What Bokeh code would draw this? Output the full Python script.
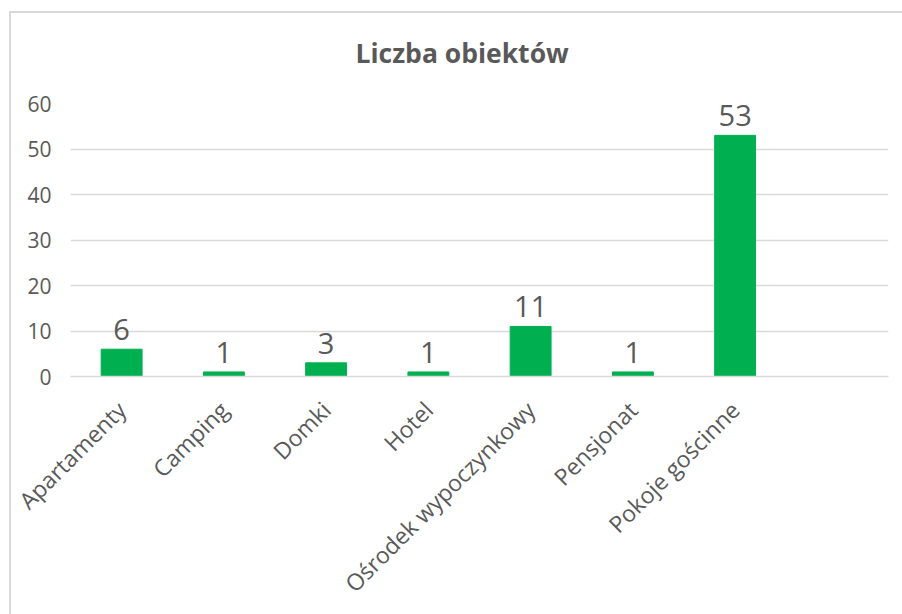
import math
from bokeh.plotting import figure
from bokeh.models import FactorRange, Range1d, ColumnDataSource, Title, FixedTicker
from bokeh.core.properties import value
from bokeh.embed import file_html
from bokeh.resources import INLINE

categories = ["Apartamenty", "Camping", "Domki", "Hotel", "Ośrodek wypoczynkowy", "Pensjonat", "Pokoje gościnne"]
counts = [6, 1, 3, 1, 11, 1, 53]
y_ticks = [0, 10, 20, 30, 40, 50, 60]
title_text = "Liczba obiektów"

GREEN = "#00B050"
TEXT = "#595959"
GRID = "#D9D9D9"
FONT = "Open Sans"

factors = categories + [" "]
src = ColumnDataSource(dict(x=categories, y=counts, lbl=[str(c) for c in counts]))

p = figure(width=902, height=614, x_range=FactorRange(*factors, range_padding=0),
           y_range=Range1d(0, 60), output_backend="svg", toolbar_location=None,
           min_border_left=70, min_border_right=14, min_border_top=103, min_border_bottom=238)
p.title = None
t = Title(text=title_text, align="left", offset=285, text_font=FONT, text_font_size="26.5px",
          text_font_style="bold", text_color=TEXT, standoff=62, vertical_align="top")
p.add_layout(t, "above")

p.vbar(x="x", top="y", width=0.4, source=src, fill_color=GREEN, line_color=GREEN)
p.text(x="x", y="y", text="lbl", source=src, text_align="center", text_baseline="bottom",
       y_offset=-9, text_font=value(FONT), text_font_size="29px", text_color=TEXT)

p.outline_line_color = None
p.background_fill_color = "white"
p.border_fill_alpha = 0
p.xgrid.grid_line_color = None
p.ygrid.grid_line_color = GRID
p.ygrid.grid_line_width = 1.5
p.yaxis.ticker = FixedTicker(ticks=y_ticks)
p.yaxis.axis_line_color = None
p.yaxis.major_tick_line_color = None
p.yaxis.minor_tick_line_color = None
p.yaxis.major_label_text_font = FONT
p.yaxis.major_label_text_font_size = "21px"
p.yaxis.major_label_text_color = TEXT
p.yaxis.major_label_standoff = 13

p.xaxis.axis_line_color = GRID
p.xaxis.axis_line_width = 1.5
p.xaxis.major_tick_line_color = None
p.xaxis.minor_tick_line_color = None
p.xaxis.major_label_orientation = math.pi / 4
p.xaxis.major_label_text_font = FONT
p.xaxis.major_label_text_font_size = "23px"
p.xaxis.major_label_text_color = TEXT
p.xaxis.major_label_standoff = 23

p.styles = {
    "background": ("linear-gradient(#D9D9D9, #D9D9D9) 9px 11px / 2px 100% no-repeat, "
                   "linear-gradient(#D9D9D9, #D9D9D9) 9px 11px / 100% 2px no-repeat, white"),
}

open("out.html", "w").write(file_html(p, INLINE))
